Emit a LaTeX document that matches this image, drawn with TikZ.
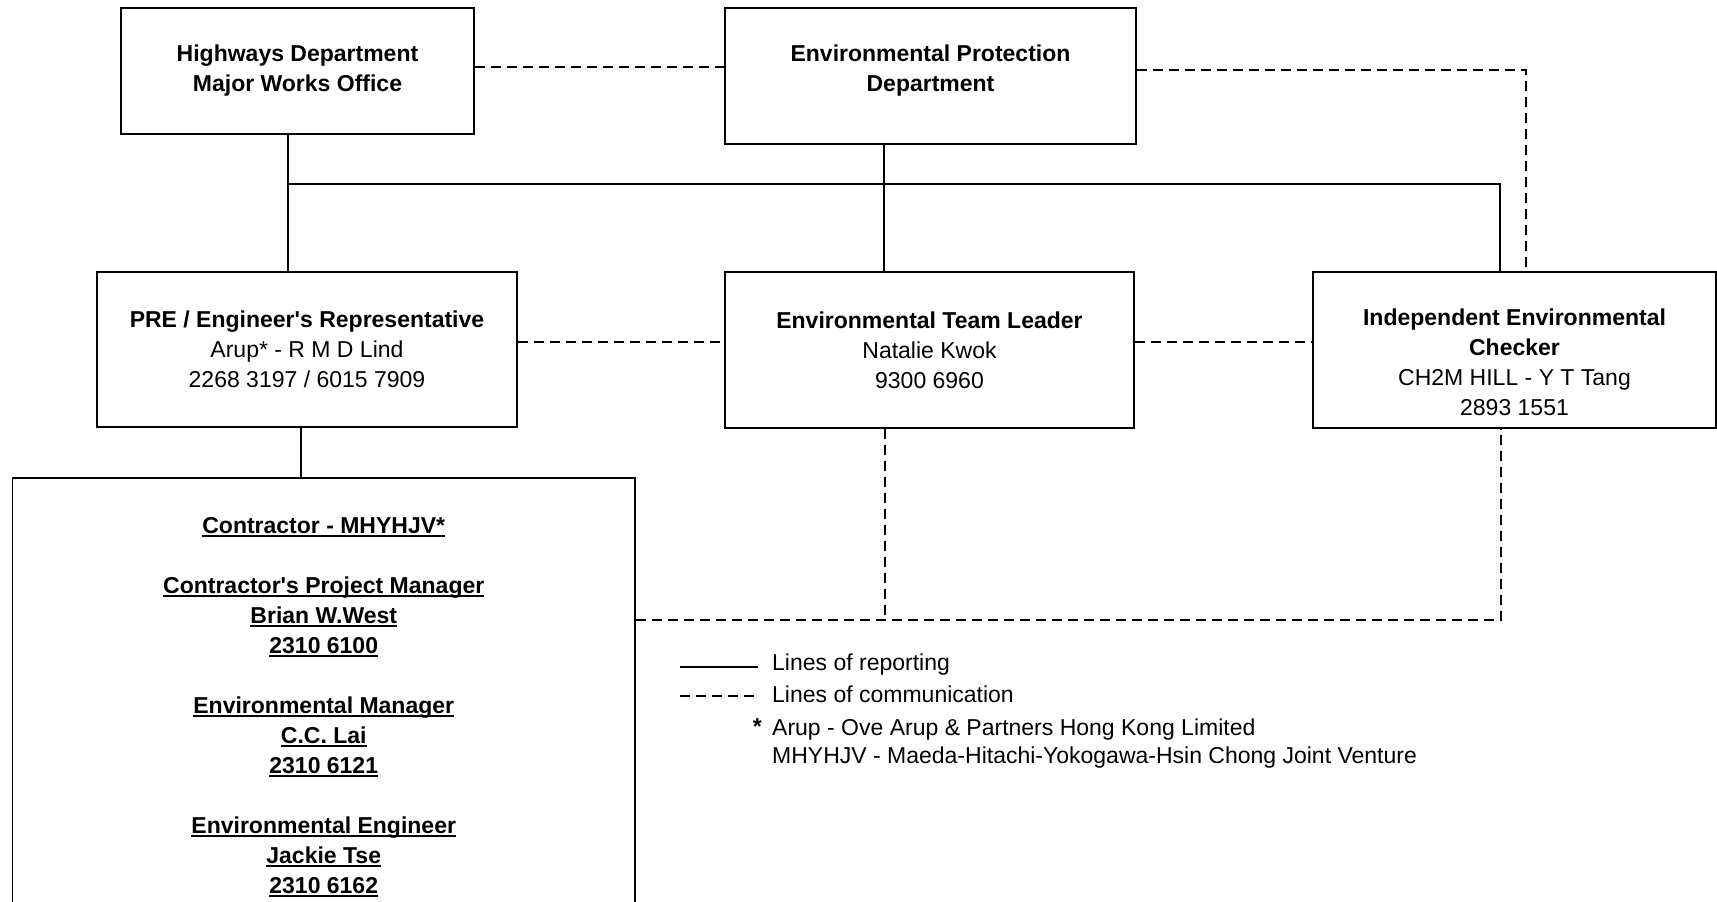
\documentclass[tikz,border=0pt]{standalone}
\usepackage{fontspec}
\setmainfont{Liberation Sans}
\usetikzlibrary{positioning,calc}

\newsavebox\ulbox
\newcommand{\ulbf}[1]{\sbox\ulbox{\textbf{#1}}\rlap{\rule[-3pt]{\wd\ulbox}{1.8pt}}\usebox\ulbox}

\begin{document}
\begin{tikzpicture}[x=1pt, y=-1pt,
	box/.style = {draw = black, rectangle, line width = 1.5pt, inner sep = 0pt, align = center, font = \fontsize{23}{30}\selectfont},
	txt/.style = {inner sep = 0pt, font = \fontsize{23}{30}\selectfont},
	rep/.style = {line width = 1.5pt},
	comm/.style = {line width = 1.5pt, dash pattern = on 10pt off 6pt}]
\useasboundingbox (0,0) rectangle (1717,902);
\clip (0,0) rectangle (1717,902);
% boxes
\node[box, minimum width = 353, minimum height = 126] (hd) at (297.5,71) {\textbf{Highways Department}\\\textbf{Major Works Office}};
\node[box, minimum width = 411, minimum height = 136] (epd) at (930.5,76) {\textbf{Environmental Protection}\\\textbf{Department}\rule[-16pt]{0pt}{1pt}};
\node[box, minimum width = 420, minimum height = 155] (pre) at (307,349.5) {\textbf{PRE / Engineer\textquotesingle s Representative}\\Arup* - R M D Lind\\2268 3197 / 6015 7909};
\node[box, minimum width = 409, minimum height = 156] (etl) at (929.5,350) {\textbf{Environmental Team Leader}\\Natalie Kwok\\9300 6960};
\node[box, minimum width = 403, minimum height = 156] (iec) at (1514.5,350) {\rule{0pt}{41pt}\textbf{Independent Environmental}\\\textbf{Checker}\\CH2M HILL - Y T Tang\\2893 1551};
\node[box, minimum width = 622.5, minimum height = 458] (con) at (323.75,707) {\ulbf{Contractor - MHYHJV*}\\[30pt]
	\ulbf{Contractor\textquotesingle s Project Manager}\\\ulbf{Brian W.West}\\\ulbf{2310 6100}\\[30pt]
	\ulbf{Environmental Manager}\\\ulbf{C.C. Lai}\\\ulbf{2310 6121}\\[30pt]
	\ulbf{Environmental Engineer}\\\ulbf{Jackie Tse}\\\ulbf{2310 6162}};
% lines of reporting
\coordinate (busl) at (288,184);
\coordinate (busr) at (1500,184);
\coordinate (epdx) at (884,200);
\coordinate (prex) at (301,450);
	\draw[rep] (hd.south -| busl) -- (pre.north -| busl);
	\draw[rep] (busl) -- (busr) -- (iec.north -| busr);
	\draw[rep] (epd.south -| epdx) -- (etl.north -| epdx);
	\draw[rep] (pre.south -| prex) -- (con.north -| prex);
% lines of communication
\coordinate (c1) at (600,67);
\coordinate (c2) at (1526,70);
\coordinate (c3) at (900,342);
\coordinate (c4) at (885,620);
\coordinate (c5) at (1501,620);
	\draw[comm] (hd.east |- c1) -- (epd.west |- c1);
	\draw[comm] (epd.east |- c2) -- (c2) -- (iec.north -| c2);
	\draw[comm] (pre.east |- c3) -- (etl.west |- c3);
	\draw[comm] (etl.east |- c3) -- (iec.west |- c3);
	\draw[comm] (con.east |- c4) -- (c5) -- (iec.south -| c5);
	\draw[comm] (etl.south -| c4) -- (c4);
% legend
\coordinate (l1) at (680,667);
\coordinate (l2) at (758,667);
\coordinate (l3) at (680,696);
\coordinate (l4) at (758,696);
	\draw[rep] (l1) -- (l2);
	\draw[comm] (l3) -- (l4);
\node[txt, anchor = west] (legrep) at (772,665) {Lines of reporting};
\node[txt, anchor = west] (legcom) at (772,694) {Lines of communication};
\node[txt, anchor = west] (notearup) at (772,730) {Arup - Ove Arup \& Partners Hong Kong Limited};
\node[txt, anchor = west] (notemh) at (772,758) {MHYHJV - Maeda-Hitachi-Yokogawa-Hsin Chong Joint Venture};
\node[txt, anchor = base east] (star) at ([xshift=-10pt, yshift=1pt]notearup.base west) {\textbf{*}};
\end{tikzpicture}
\end{document}
